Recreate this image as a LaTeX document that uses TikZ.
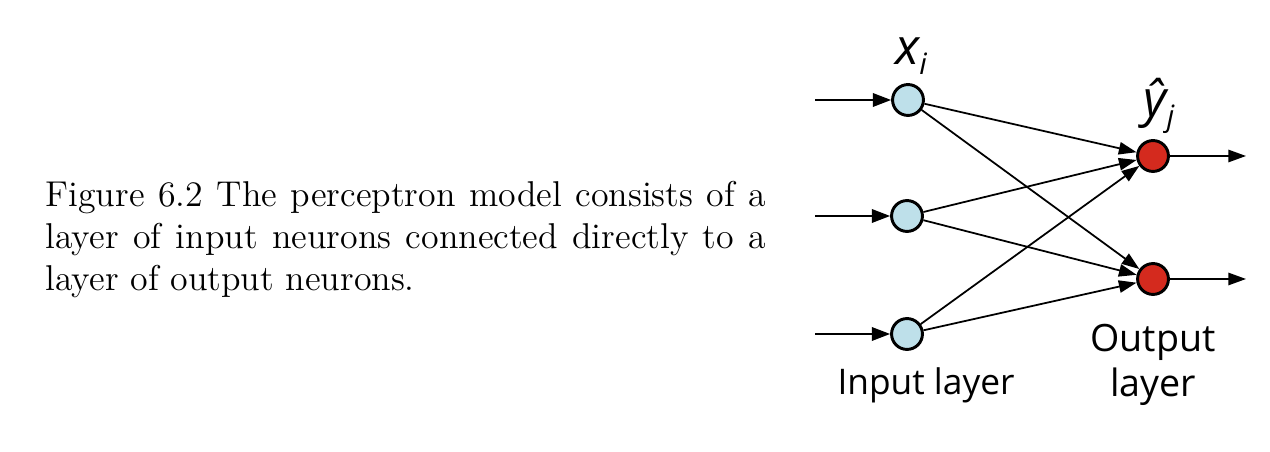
\documentclass[tikz,border=0pt]{standalone}
\usepackage{fontspec}
\newfontfamily\labelfont{Open Sans}
\usetikzlibrary{arrows.meta}
\definecolor{inblue}{RGB}{190,224,234}
\definecolor{outred}{RGB}{212,42,30}
\begin{document}
\begin{tikzpicture}[x=0.34pt,y=-0.34pt,
  neuron/.style={circle,draw=black,line width=1pt,minimum size=10.5pt,inner sep=0pt},
  inneuron/.style={neuron,fill=inblue},
  outneuron/.style={neuron,fill=outred},
  conn/.style={line width=0.6pt,-{Triangle[length=6pt,width=4.2pt]}},
  feed/.style={line width=0.6pt,-{Triangle[length=6.2pt,width=4.6pt]}},
  lab/.style={font=\labelfont\fontsize{12pt}{14pt}\selectfont,inner sep=0pt}]
\useasboundingbox (0,0) rectangle (1270,452);
\node[anchor=north west,inner sep=0pt,text width=245pt,align=justify,
  font=\fontsize{12.2pt}{14.2pt}\selectfont] (cap) at (45,181)
  {Figure 6.2 The perceptron model consists of a layer of input neurons connected directly to a layer of output neurons.};
\node[inneuron] (i1) at (908,100) {};
\node[inneuron] (i2) at (907,216) {};
\node[inneuron] (i3) at (907,334) {};
\node[outneuron] (o1) at (1153,156) {};
\node[outneuron] (o2) at (1153,279) {};
\coordinate (a1) at (815,100);
\coordinate (a2) at (815,216);
\coordinate (a3) at (815,334);
\coordinate (b1) at (1246,156);
\coordinate (b2) at (1246,279);
\foreach \k in {1,2,3}{\draw[feed] (a\k) -- (i\k);}
\foreach \k in {1,2}{\draw[conn] (o\k) -- (b\k);}
\foreach \i in {1,2,3}{\foreach \o in {1,2}{\draw[conn] (i\i) -- (o\o);}}
\node[font=\labelfont\itshape\fontsize{17pt}{17pt}\selectfont,inner sep=0pt] (xl) at (911,56) {x\raisebox{-0.4ex}{\fontsize{10pt}{10pt}\selectfont i}};
\node[font=\labelfont\itshape\fontsize{17pt}{17pt}\selectfont,inner sep=0pt] (yl) at (1159,106) {ŷ\raisebox{-0.4ex}{\fontsize{10pt}{10pt}\selectfont j}};
\node[lab] (inl) at (926,385) {Input layer};
\node[lab,align=center,font=\labelfont\fontsize{12.8pt}{15.5pt}\selectfont] (outl) at (1153,365) {Output\\layer};
\end{tikzpicture}
\end{document}
